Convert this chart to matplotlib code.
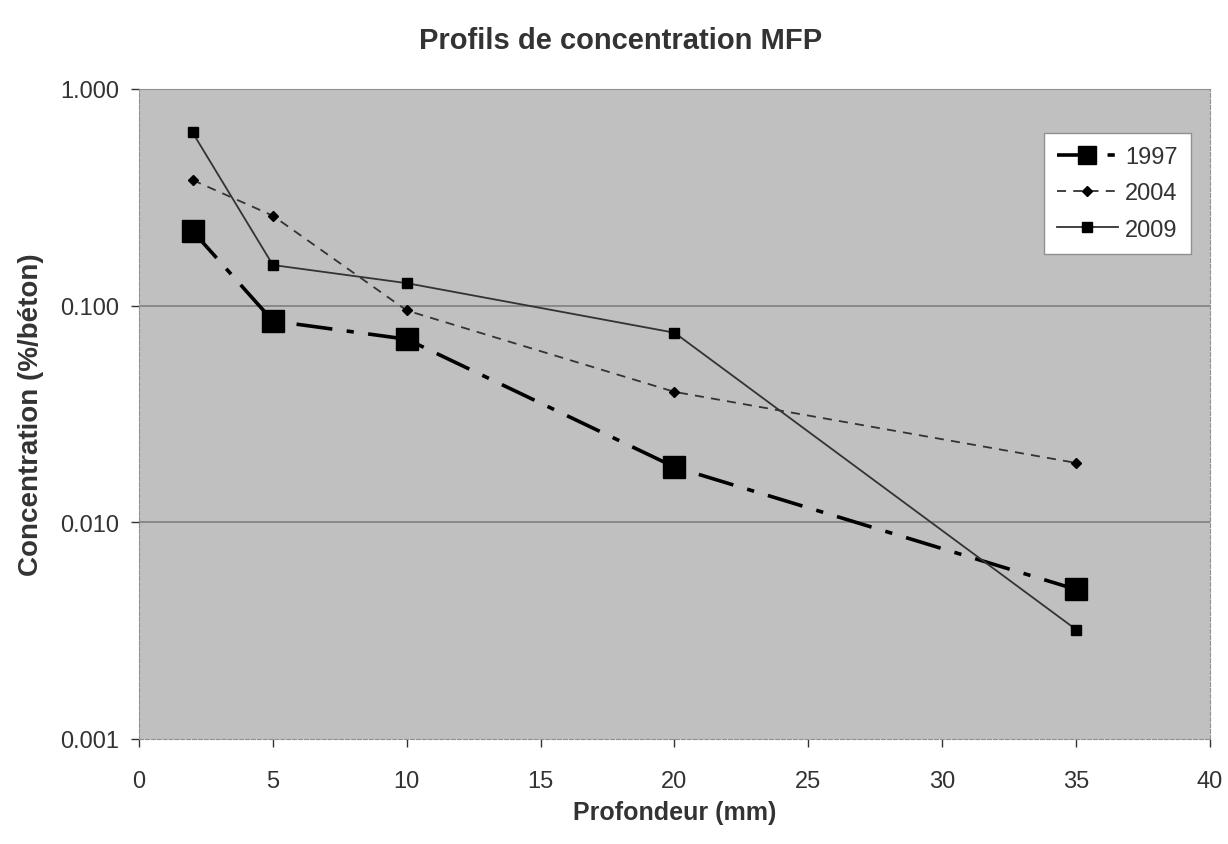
import matplotlib.pyplot as plt
from matplotlib.ticker import FixedLocator, FixedFormatter

plt.rcParams['font.family'] = ['Liberation Sans', 'DejaVu Sans']

# Profondeur (mm)
depth = [2, 5, 10, 20, 35]
# Concentration (%/béton)
c1997 = [0.221, 0.085, 0.070, 0.018, 0.0049]
c2004 = [0.38, 0.26, 0.095, 0.040, 0.0188]
c2009 = [0.63, 0.154, 0.127, 0.075, 0.0032]

yticks = [0.001, 0.01, 0.1, 1.0]
ytick_labels = ['0.001', '0.010', '0.100', '1.000']
xticks = [0, 5, 10, 15, 20, 25, 30, 35, 40]

fig = plt.figure(figsize=(12.28, 8.45), dpi=100)
ax = fig.add_axes([0.1132, 0.1243, 0.8721, 0.7692])
ax.set_facecolor('#c0c0c0')

# grille horizontale
for v in [0.01, 0.1]:
    ax.axhline(v, color='#808080', linewidth=1.2, zorder=1)

ax.plot(depth, c1997, color='black', linestyle='-.', linewidth=2.6,
        dashes=(10, 4, 2, 4), marker='s', markersize=16, label='1997', zorder=3)
ax.plot(depth, c2004, color='#333333', linestyle='--', linewidth=1.3,
        dashes=(5, 4), marker='D', markersize=5, markerfacecolor='black',
        markeredgecolor='black', label='2004', zorder=3)
ax.plot(depth, c2009, color='#333333', linestyle='-', linewidth=1.3,
        marker='s', markersize=7, markerfacecolor='black',
        markeredgecolor='black', label='2009', zorder=3)

ax.set_yscale('log')
ax.set_ylim(0.001, 1.0)
ax.set_xlim(0, 40)
ax.yaxis.set_major_locator(FixedLocator(yticks))
ax.yaxis.set_major_formatter(FixedFormatter(ytick_labels))
ax.yaxis.set_minor_locator(FixedLocator([]))
ax.set_xticks(xticks)

ax.tick_params(axis='both', labelsize=17, colors='#333333', length=6,
               direction='out', width=1)
ax.tick_params(axis='x', pad=16)
ax.tick_params(axis='y', pad=8)

for side in ['left', 'bottom', 'right']:
    ax.spines[side].set_color('#909090')
    ax.spines[side].set_linestyle('--')
ax.spines['top'].set_color('#909090')

ax.set_xlabel('Profondeur (mm)', fontsize=18, fontweight='bold',
              color='#333333', labelpad=6)
ax.set_ylabel('Concentration (%/béton)', fontsize=20, fontweight='bold',
              color='#333333', labelpad=12)
fig.suptitle('Profils de concentration MFP', fontsize=21, fontweight='bold',
             color='#333333', x=0.505, y=0.968)

leg = ax.legend(loc='upper right', bbox_to_anchor=(0.993, 0.95), fontsize=17,
                frameon=True, fancybox=False, handlelength=2.6,
                labelspacing=0.6, borderpad=0.55, handletextpad=0.3)
leg.get_frame().set_edgecolor('#909090')
leg.get_frame().set_facecolor('white')
leg.get_frame().set_alpha(1)
for t in leg.get_texts():
    t.set_color('#333333')
for h in leg.legend_handles:
    if h.get_label() == '1997':
        h.set_markersize(13)

fig.savefig('out.png', dpi=100)
